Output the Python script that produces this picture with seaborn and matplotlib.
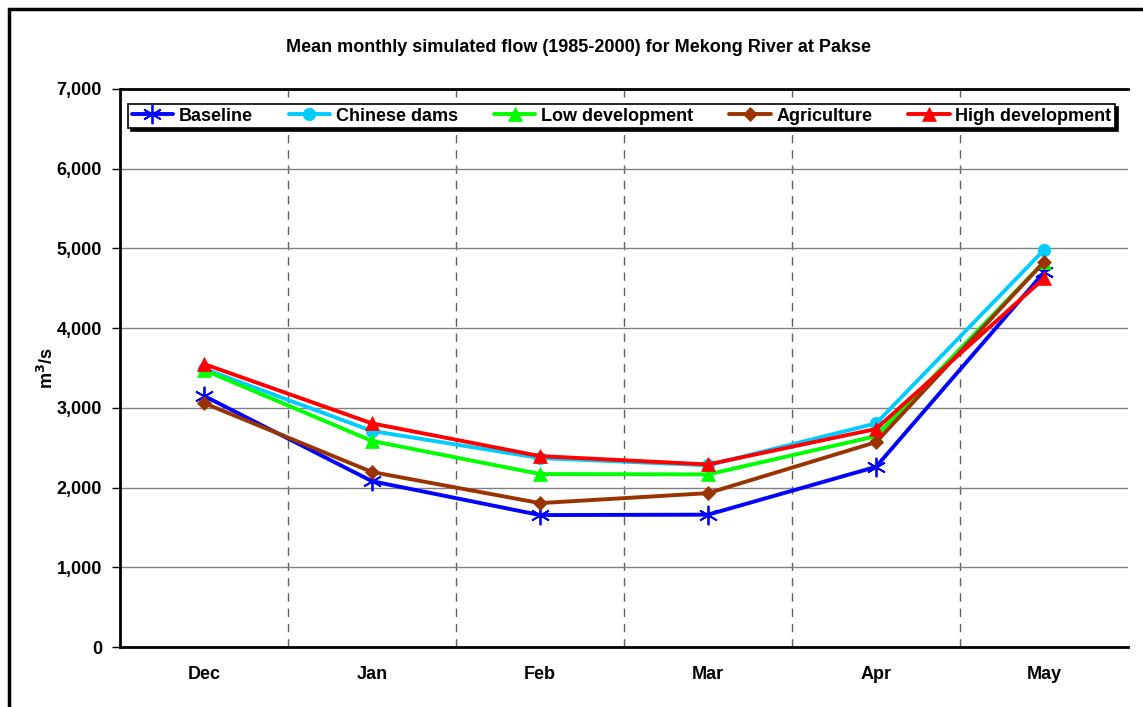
import matplotlib
matplotlib.use("Agg")
import matplotlib.pyplot as plt
import seaborn as sns
import pandas as pd
from matplotlib.patches import Rectangle
from matplotlib.ticker import FuncFormatter, FixedLocator

months = ["Dec", "Jan", "Feb", "Mar", "Apr", "May"]
baseline = [3150, 2080, 1655, 1660, 2260, 4700]
chinese_dams = [3490, 2710, 2370, 2280, 2805, 4980]
low_development = [3475, 2585, 2170, 2165, 2645, 4830]
agriculture = [3060, 2195, 1805, 1930, 2570, 4830]
high_development = [3550, 2805, 2395, 2290, 2735, 4625]

series_names = ["Baseline", "Chinese dams", "Low development", "Agriculture", "High development"]
series_values = [baseline, chinese_dams, low_development, agriculture, high_development]
colors = ["#0000FF", "#00CCFF", "#00FF00", "#993300", "#FF0000"]
markers = [(6, 2, 0), "o", "^", "D", "^"]
msizes = [14, 9, 10, 7, 10]

rows = []
for name, vals in zip(series_names, series_values):
    for i, (m, v) in enumerate(zip(months, vals)):
        rows.append({"pos": i, "month": m, "flow": v, "series": name})
df = pd.DataFrame(rows)

sns.set_style("white")
plt.rcParams["font.family"] = ["Liberation Sans", "DejaVu Sans"]
plt.rcParams["text.color"] = "black"
plt.rcParams["xtick.color"] = "black"
plt.rcParams["ytick.color"] = "black"
plt.rcParams["axes.labelcolor"] = "black"

fig = plt.figure(figsize=(11.43, 7.07), dpi=100)
ax = fig.add_axes([120/1143, 60/707, 1008/1143, 558/707])

for name, c, mk, ms in zip(series_names, colors, markers, msizes):
    sub = df[df["series"] == name]
    sns.lineplot(data=sub, x="pos", y="flow", ax=ax, color=c, marker=mk,
                 markersize=ms, linewidth=2.8, label=name,
                 markeredgecolor=c, markeredgewidth=1.3 if mk == (6, 2, 0) else 0.5,
                 zorder=3)

ax.set_xlim(-0.5, 5.5)
ax.set_ylim(0, 7000)
ax.set_xticks(range(6))
ax.set_xticklabels(months, fontsize=13, fontweight="bold")
ax.xaxis.set_minor_locator(FixedLocator([k + 0.5 for k in range(-1, 6)]))
ax.tick_params(axis="x", which="major", length=0, pad=14)
ax.tick_params(axis="x", which="minor", length=5, direction="inout", width=1)
ax.set_yticks(range(0, 7001, 1000))
ax.yaxis.set_major_formatter(FuncFormatter(lambda v, p: f"{int(v):,}"))
ax.tick_params(axis="y", labelsize=13, length=6, width=1, left=True, direction="out", pad=7)
for lab in ax.get_yticklabels():
    lab.set_fontweight("bold")
ax.set_xlabel("")
ax.set_ylabel("m$^{\\mathbf{3}}$/s", fontsize=13, fontweight="bold", labelpad=0)

ax.grid(axis="y", color="#808080", linewidth=1, linestyle="-", zorder=0)
for k in range(5):
    ax.axvline(k + 0.5, color="#606060", linewidth=1, linestyle=(0, (6, 5)), zorder=0)

for sp in ax.spines.values():
    sp.set_visible(False)
for s in ["left", "bottom", "top"]:
    ax.spines[s].set_visible(True)
    ax.spines[s].set_linewidth(2)
    ax.spines[s].set_color("black")

leg = ax.legend(loc="upper left", bbox_to_anchor=(8/1008, 1 - 15/558 - 27/558, 987/1008, 27/558),
                mode="expand", ncol=5, frameon=True, fancybox=False,
                shadow={"color": "black", "alpha": 1.0},
                prop={"weight": "bold", "size": 13}, handlelength=2.3,
                handletextpad=0.3, borderpad=0.2, columnspacing=1.0,
                borderaxespad=0)
leg.get_frame().set_edgecolor("black")
leg.get_frame().set_linewidth(1.2)

fig.text(578/1143, 1 - 47/707, "Mean monthly simulated flow (1985-2000) for Mekong River at Pakse",
         ha="center", va="center", fontsize=13, fontweight="bold")

fig.patches.append(Rectangle((9/1143, -0.05), 1.2, 1 - 9/707 + 0.05, transform=fig.transFigure,
                             fill=False, edgecolor="black", linewidth=2.5, zorder=10))

fig.savefig("out.png", dpi=100, facecolor="white")
